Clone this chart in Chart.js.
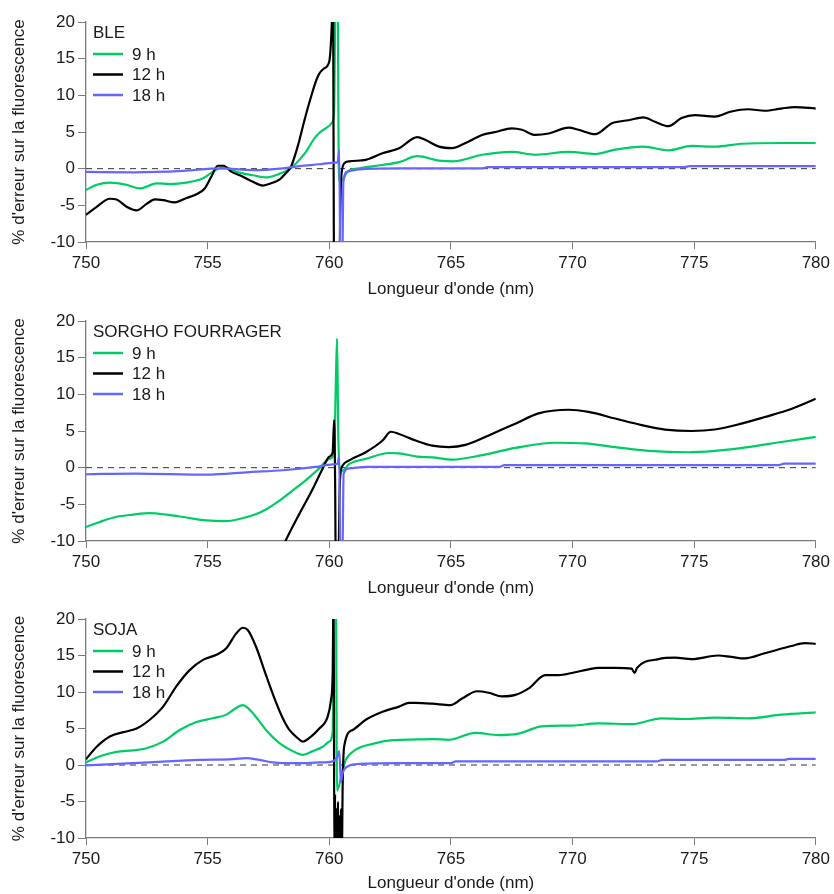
<!DOCTYPE html>
<html>
<head>
<meta charset="utf-8">
<script src="https://cdn.jsdelivr.net/npm/chart.js@4/dist/chart.umd.min.js"></script>
<style>
  body { margin: 0; background: #fff; }
  .panel { position: absolute; left: 0; width: 834px; }
</style>
</head>
<body>
<div class="panel" style="top:0"><canvas id="ble" width="834" height="300"></canvas></div>
<div class="panel" style="top:299px"><canvas id="sorgho" width="834" height="300"></canvas></div>
<div class="panel" style="top:597px"><canvas id="soja" width="834" height="297"></canvas></div>
<script>
// x range and ticks
const wlRange = [750, 780];
const yRange = [-10, 20];
const zeroLine = [0, 0];
const seriesLabels = ['9 h', '12 h', '18 h'];

// BLE
const bleWl9 = [750, 750.44, 750.98, 751.67, 752.21, 752.9, 753.44, 754.13, 754.81, 755.22, 755.49, 755.77, 756.17, 756.86, 757.4, 757.95, 758.36, 758.63, 759.04, 759.45, 759.86, 760.14, 760.2, 760.26, 760.34, 760.4, 760.55, 760.75, 761.23, 762.19, 762.87, 763.62, 764.51, 765.12, 766.28, 767.51, 768.47, 769.84, 770.93, 771.76, 772.91, 773.94, 774.89, 775.85, 776.94, 778.58, 780];
const ble9 = [-2.9, -2.2, -1.9, -2.2, -2.7, -2.0, -2.1, -1.9, -1.3, -0.4, 0.05, 0.15, -0.4, -0.9, -1.2, -0.7, -0.1, 0.7, 2.3, 4.4, 5.5, 6.4, 8.0, 24, 24, -1.8, -1.5, -0.4, 0.05, 0.5, 0.9, 1.7, 1.1, 1.0, 1.9, 2.3, 1.9, 2.3, 2.0, 2.6, 3.0, 2.5, 3.1, 3.0, 3.4, 3.5, 3.5];
const bleWl12 = [750, 750.44, 750.98, 751.26, 751.67, 752.08, 752.49, 752.83, 753.17, 753.65, 754.13, 754.54, 754.88, 755.15, 755.42, 755.66, 755.97, 756.45, 756.86, 757.27, 757.61, 757.95, 758.22, 758.43, 758.7, 758.98, 759.25, 759.52, 759.8, 760.0, 760.1, 760.15, 760.2, 760.4, 760.48, 760.61, 760.82, 761.5, 762.19, 762.87, 763.62, 763.96, 764.51, 765.05, 765.6, 766.28, 766.83, 767.51, 767.92, 768.47, 769.02, 769.84, 770.25, 770.93, 771.62, 772.3, 772.91, 773.39, 773.94, 774.48, 775.03, 775.85, 776.53, 777.21, 777.9, 778.58, 779.13, 780];
const ble12 = [-6.3, -5.2, -4.1, -4.2, -5.2, -5.7, -4.8, -4.2, -4.3, -4.6, -4.0, -3.5, -2.7, -1.1, 0.4, 0.4, -0.4, -1.1, -1.8, -2.3, -2.0, -1.5, -0.6, 0.3, 3.0, 6.6, 9.8, 12.5, 13.7, 14.6, 19.4, 25, -15, -15, -1.8, 0.7, 1.0, 1.2, 2.1, 2.8, 4.3, 3.9, 3.0, 2.8, 3.5, 4.6, 5.0, 5.5, 5.3, 4.6, 4.8, 5.6, 5.3, 4.7, 6.2, 6.6, 7.0, 6.4, 5.8, 6.9, 7.3, 7.1, 7.8, 8.1, 7.9, 8.2, 8.4, 8.2];
const bleWl18 = [750, 752, 754, 755.5, 756.86, 758.1, 758.77, 759.59, 760.14, 760.34, 760.41, 760.46, 760.53, 760.58, 760.75, 761.23, 762.87, 766.3, 766.5, 774.6, 774.8, 780];
const ble18 = [-0.45, -0.5, -0.3, 0.05, -0.2, 0.05, 0.35, 0.6, 0.8, 0.85, 2.5, -15, -15, -1.8, -0.4, -0.1, 0.05, 0.05, 0.2, 0.2, 0.35, 0.35];

// SORGHO FOURRAGER
const sorWl9 = [750, 750.57, 751.26, 751.94, 752.62, 753.31, 754.13, 754.95, 755.77, 756.31, 756.86, 757.4, 757.95, 758.5, 759.04, 759.59, 760.0, 760.2, 760.27, 760.32, 760.37, 760.44, 760.55, 760.82, 761.5, 762.46, 762.87, 763.62, 764.23, 765.05, 766.28, 767.65, 769.29, 770.52, 771.75, 773.12, 774.75, 775.85, 777.21, 778.58, 780];
const sor9 = [-8.1, -7.4, -6.7, -6.4, -6.2, -6.4, -6.8, -7.2, -7.3, -7.0, -6.5, -5.7, -4.5, -3.1, -1.7, -0.1, 1.2, 1.9, 11.5, 17.6, 4.6, -0.4, -0.4, 0.5, 1.2, 2.0, 1.95, 1.5, 1.4, 1.1, 1.7, 2.7, 3.4, 3.3, 2.8, 2.3, 2.1, 2.3, 2.8, 3.5, 4.2];
const sorWl12 = [758.0, 758.2, 758.77, 759.32, 759.73, 760.0, 760.14, 760.2, 760.24, 760.27, 760.36, 760.44, 760.55, 760.82, 761.5, 762.19, 762.53, 762.87, 763.55, 764.23, 764.92, 765.6, 766.69, 767.65, 768.6, 769.84, 770.66, 771.75, 772.84, 773.8, 774.89, 775.85, 776.94, 777.9, 778.99, 780];
const sor12 = [-11.5, -10, -6.3, -2.9, -0.1, 1.5, 2.1, 6.5, -1.7, -15, -15, -1.7, 0.3, 1.0, 2.1, 3.7, 4.9, 4.6, 3.7, 3.0, 2.8, 3.1, 4.6, 6.0, 7.4, 7.9, 7.6, 6.7, 5.8, 5.2, 5.0, 5.2, 6.0, 6.9, 8.0, 9.4];
const sorWl18 = [750, 752, 754.95, 756.72, 758.09, 759.45, 760.14, 760.34, 760.41, 760.46, 760.53, 760.59, 760.82, 761.5, 767.0, 767.2, 778.5, 778.7, 780];
const sor18 = [-0.9, -0.8, -0.95, -0.6, -0.35, 0.1, 0.45, 0.55, 1.5, -15, -15, -0.8, -0.1, 0.1, 0.1, 0.35, 0.35, 0.55, 0.55];

// SOJA
const sojWl9 = [750, 750.57, 751.26, 751.94, 752.49, 753.17, 753.85, 754.54, 755.22, 755.77, 756.17, 756.45, 756.86, 757.4, 757.95, 758.5, 758.91, 759.32, 759.73, 760.0, 760.14, 760.2, 760.27, 760.32, 760.55, 760.68, 761.09, 761.78, 762.6, 763.62, 764.23, 764.92, 766.0, 766.96, 767.78, 768.74, 769.97, 771.07, 772.43, 773.66, 774.61, 775.85, 777.21, 778.58, 780];
const soj9 = [0.35, 1.2, 1.8, 2.0, 2.3, 3.2, 4.8, 5.9, 6.4, 6.9, 7.8, 8.2, 7.1, 4.8, 3.0, 1.9, 1.4, 1.9, 2.5, 3.2, 4.6, 24, 24, -3.5, -0.7, 0.7, 2.1, 2.9, 3.4, 3.5, 3.55, 3.45, 4.4, 4.1, 4.3, 5.3, 5.4, 5.7, 5.6, 6.4, 6.3, 6.5, 6.4, 6.9, 7.2];
const sojWl12 = [750, 750.44, 750.98, 751.53, 752.08, 752.62, 753.17, 753.72, 754.26, 754.81, 755.36, 755.77, 756.17, 756.45, 756.65, 756.99, 757.4, 757.75, 758.09, 758.36, 758.7, 758.91, 759.25, 759.59, 759.93, 760.07, 760.14, 760.18, 760.21, 760.24, 760.27, 760.3, 760.33, 760.36, 760.39, 760.42, 760.45, 760.48, 760.51, 760.55, 760.61, 760.96, 761.5, 762.19, 762.87, 763.28, 763.55, 764.23, 764.98, 765.46, 766.07, 766.55, 767.1, 767.65, 768.2, 768.88, 769.43, 769.97, 770.66, 771.07, 771.75, 772.43, 772.55, 772.65, 773.53, 774.21, 774.89, 775.98, 776.53, 777.08, 777.9, 778.99, 779.54, 780];
const soj12 = [0.8, 2.5, 3.9, 4.5, 5.0, 6.2, 8.0, 10.8, 13.0, 14.4, 15.1, 16.0, 18.0, 18.8, 18.5, 16.2, 12.3, 9.1, 6.4, 4.8, 3.7, 3.2, 3.9, 5.0, 6.6, 8.9, 12.6, 25, -15, -4, -15, -6, -15, -5, -15, -7, -15, -6, -15, -3, 2.5, 4.8, 6.2, 7.3, 8.0, 8.5, 8.5, 8.4, 8.2, 9.1, 10.1, 9.9, 9.4, 9.6, 10.5, 12.3, 12.3, 12.6, 13.1, 13.3, 13.3, 13.2, 12.6, 13.3, 14.5, 14.7, 14.5, 15.0, 14.8, 14.6, 15.3, 16.3, 16.7, 16.6];
const sojWl18 = [750, 751.94, 753.31, 754.67, 756.04, 756.58, 757.13, 757.68, 758.1, 758.77, 759.59, 760.14, 760.34, 760.41, 760.48, 760.55, 760.75, 761.23, 762.87, 765.0, 765.2, 773.5, 773.7, 778.7, 778.9, 780];
const soj18 = [-0.05, 0.25, 0.5, 0.7, 0.8, 0.95, 0.7, 0.35, 0.25, 0.25, 0.35, 0.5, 1.2, 1.9, -2.3, -1.1, -0.2, 0.15, 0.25, 0.25, 0.5, 0.5, 0.7, 0.7, 0.85, 0.85];

const colors = ['#00cc66', '#000000', '#6666ff'];
const font = '"Liberation Sans", Arial, sans-serif';
const textColor = '#1a1a1a';
const axisColor = '#7a7a7a';

const toPoints = (wl, vals) => wl.map((x, i) => ({ x, y: vals[i] }));

// draws the panel name and the small legend inside the plot, top left
const panelLegend = {
    id: 'panelLegend',
    afterDatasetsDraw(chart, args, opts) {
        const { ctx, chartArea } = chart;
        const x0 = chartArea.left + 7;
        ctx.save();
        ctx.font = '17px ' + font;
        ctx.fillStyle = textColor;
        ctx.textBaseline = 'middle';
        ctx.fillText(opts.title, x0, chartArea.top + 11);
        chart.data.datasets.filter(d => d.label).forEach((d, i) => {
            const y = chartArea.top + 32 + i * 20.5;
            ctx.strokeStyle = d.borderColor;
            ctx.lineWidth = 2.5;
            ctx.beginPath();
            ctx.moveTo(x0, y);
            ctx.lineTo(x0 + 30, y);
            ctx.stroke();
            ctx.fillText(d.label, x0 + 39, y + 1);
        });
        ctx.restore();
    }
};

const createPanel = (canvasId, title, series, xAxisHeight) => {
    const datasets = series.map((s, i) => ({
        label: seriesLabels[i],
        data: toPoints(s[0], s[1]),
        borderColor: colors[i],
        borderWidth: 2.2,
        pointRadius: 0,
        cubicInterpolationMode: 'monotone',
        order: 2 - i
    }));
    datasets.push({
        label: '',
        data: toPoints(wlRange, zeroLine),
        borderColor: '#333',
        borderWidth: 1,
        borderDash: [6, 5],
        pointRadius: 0,
        order: 5
    });

    return new Chart(document.getElementById(canvasId), {
        type: 'line',
        data: { datasets },
        plugins: [panelLegend],
        options: {
            responsive: false,
            animation: false,
            layout: { padding: { top: 22, right: 16, left: 0, bottom: 0 } },
            plugins: {
                legend: { display: false },
                tooltip: { enabled: false },
                panelLegend: { title }
            },
            scales: {
                x: {
                    type: 'linear',
                    min: wlRange[0],
                    max: wlRange[1],
                    ticks: { stepSize: 5, color: textColor, font: { family: font, size: 17 }, padding: 4, maxRotation: 0 },
                    grid: { drawOnChartArea: false, tickLength: 7, color: axisColor },
                    border: { color: axisColor, width: 1.3 },
                    title: { display: true, text: "Longueur d'onde (nm)", color: textColor, font: { family: font, size: 17 }, padding: 0 },
                    afterFit: scale => { scale.height = xAxisHeight; }
                },
                y: {
                    min: yRange[0],
                    max: yRange[1],
                    ticks: { stepSize: 5, color: textColor, font: { family: font, size: 17 }, padding: 3 },
                    grid: { drawOnChartArea: false, tickLength: 8, color: axisColor },
                    border: { color: axisColor, width: 1.3 },
                    title: { display: true, text: "% d'erreur sur la fluorescence", color: textColor, font: { family: font, size: 17 }, padding: { top: 9, bottom: 0 } },
                    afterFit: scale => { scale.width = 86; }
                }
            }
        }
    });
};

createPanel('ble', 'BLE', [[bleWl9, ble9], [bleWl12, ble12], [bleWl18, ble18]], 58);
createPanel('sorgho', 'SORGHO FOURRAGER', [[sorWl9, sor9], [sorWl12, sor12], [sorWl18, sor18]], 58);
createPanel('soja', 'SOJA', [[sojWl9, soj9], [sojWl12, soj12], [sojWl18, soj18]], 56);
</script>
</body>
</html>
